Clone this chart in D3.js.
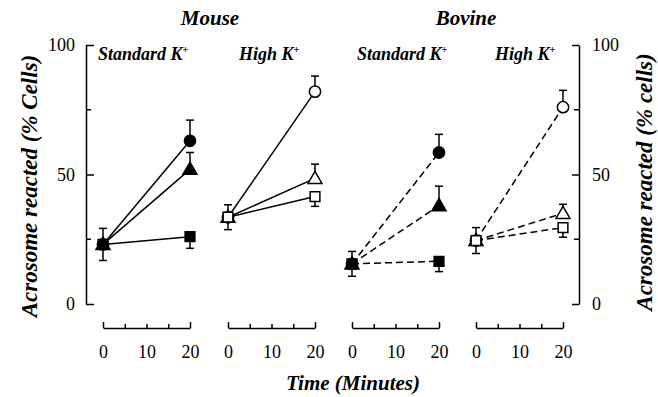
<!DOCTYPE html>
<html>
<head>
<meta charset="utf-8">
<script src="https://cdn.jsdelivr.net/npm/d3@7"></script>
<style>
  body { margin: 0; background: #fff; }
  svg { display: block; }
  .ttl { font-weight: bold; font-style: italic; }
</style>
</head>
<body>
<div id="chart"></div>
<script>
// panels, left to right
const speciesNames = ["Mouse", "Bovine"];
const panelLabels = ["Standard K", "High K", "Standard K", "High K"];
const panelOpen = [false, true, false, true];
const panelDashed = [false, false, true, true];
const timePoints = [0, 20];
const timeTicks = [0, 5, 10, 15, 20];
const yTicks = [0, 50, 100];
const yMinorTicks = [25, 75];

// values at t = 0 (shared by all three series of a panel)
const startValues = [23, 33.5, 15.5, 24.5];
const startErrors = [6.2, 4.8, 4.8, 5];
// values at t = 20
const circleValues = [63, 82, 58.5, 76];
const circleErrors = [8, 6, 7, 6.5];
const triangleValues = [52, 48.5, 38, 35];
const triangleErrors = [6.5, 5.5, 7.5, 3.5];
const squareValues = [26, 41.5, 16.5, 29.5];
const squareErrors = [4.5, 3.8, 4, 3.7];

const W = 658, H = 397;
const FONT = "'Liberation Serif', serif";
const svg = d3.select("#chart").append("svg").attr("width", W).attr("height", H);

const y = d3.scaleLinear().domain([0, 100]).range([304, 45]);
const panelLeft = [103, 228, 352, 476];
const panelWidth = 87;
const xs = panelLeft.map(l => d3.scaleLinear().domain([0, 20]).range([l, l + panelWidth]));

// left y axis
const yl = svg.append("g").attr("transform", "translate(86,0)")
  .call(d3.axisLeft(y).tickValues(yTicks).tickSize(-8).tickSizeOuter(0).tickPadding(11));
yl.append("g").selectAll("line").data(yMinorTicks).join("line")
  .attr("x1", 0).attr("x2", 5).attr("y1", d => y(d)).attr("y2", d => y(d));

// right y axis
const yr = svg.append("g").attr("transform", "translate(579,0)")
  .call(d3.axisRight(y).tickValues(yTicks).tickSize(-7).tickSizeOuter(0).tickPadding(13));
yr.append("g").selectAll("line").data(yMinorTicks).join("line")
  .attr("x1", 0).attr("x2", -5).attr("y1", d => y(d)).attr("y2", d => y(d));

[yl, yr].forEach(g => {
  g.selectAll("path, line").attr("stroke", "#000").attr("stroke-width", 1.5);
  g.selectAll("text").style("font-size", "18px").attr("fill", "#000");
});

// time axes
xs.forEach(x => {
  const g = svg.append("g").attr("transform", "translate(0,328)")
    .call(d3.axisBottom(x).tickValues(timeTicks).tickSize(-6).tickSizeOuter(0).tickPadding(17)
      .tickFormat(d => d % 10 === 0 ? d : ""));
  g.selectAll(".tick line").attr("y2", d => (d === 0 || d === 20) ? -6 : -4);
  g.selectAll("path, line").attr("stroke", "#000").attr("stroke-width", 1.5);
  g.selectAll("text").style("font-size", "18px").attr("fill", "#000");
});

// titles
svg.append("text").attr("class", "ttl").attr("x", 210).attr("y", 25).attr("text-anchor", "middle")
  .style("font-size", "21px").text(speciesNames[0]);
svg.append("text").attr("class", "ttl").attr("x", 466).attr("y", 25).attr("text-anchor", "middle")
  .style("font-size", "21px").text(speciesNames[1]);

const labelX = [98, 239, 357, 495];
panelLabels.forEach((lab, i) => {
  const t = svg.append("text").attr("class", "ttl").attr("x", labelX[i]).attr("y", 60)
    .style("font-size", "18px").text(lab);
  t.append("tspan").attr("dy", -7).style("font-size", "10px").text("+");
});

svg.append("text").attr("class", "ttl").attr("transform", "translate(37,186) rotate(-90)")
  .attr("text-anchor", "middle").style("font-size", "23px").text("Acrosome reacted (% Cells)");
svg.append("text").attr("class", "ttl").attr("transform", "translate(652,182) rotate(-90)")
  .attr("text-anchor", "middle").style("font-size", "23px").text("Acrosome reacted (% cells)");
svg.append("text").attr("class", "ttl").attr("x", 353).attr("y", 390).attr("text-anchor", "middle")
  .style("font-size", "21px").text("Time (Minutes)");

// data
const seriesDefs = [
  { shape: d3.symbolCircle, size: 100, vals: circleValues, errs: circleErrors, dir: -1 },
  { shape: d3.symbolTriangle, size: 85, vals: triangleValues, errs: triangleErrors, dir: -1 },
  { shape: d3.symbolSquare, size: 95, vals: squareValues, errs: squareErrors, dir: 1 }
];
const line = d3.line();

xs.forEach((x, p) => {
  const g = svg.append("g");
  const open = panelOpen[p];
  // lines
  seriesDefs.forEach(s => {
    const pts = timePoints.map((t, k) => [x(t), y(k === 0 ? startValues[p] : s.vals[p])]);
    g.append("path").attr("d", line(pts)).attr("fill", "none").attr("stroke", "#000")
      .attr("stroke-width", 1.5).attr("stroke-dasharray", panelDashed[p] ? "7,4" : null);
  });
  // error bars
  const bars = [
    { x: x(0), y0: startValues[p] - startErrors[p], y1: startValues[p] + startErrors[p] }
  ];
  seriesDefs.forEach(s => {
    bars.push({ x: x(20), y0: s.vals[p], y1: s.vals[p] - s.dir * s.errs[p] });
  });
  bars.forEach(b => {
    g.append("line").attr("x1", b.x).attr("x2", b.x).attr("y1", y(b.y0)).attr("y2", y(b.y1))
      .attr("stroke", "#000").attr("stroke-width", 1.5);
    [b.y0, b.y1].forEach(v => {
      g.append("line").attr("x1", b.x - 4).attr("x2", b.x + 4).attr("y1", y(v)).attr("y2", y(v))
        .attr("stroke", "#000").attr("stroke-width", 1.5);
    });
  });
  // markers
  seriesDefs.forEach(s => {
    const sym = d3.symbol().type(s.shape).size(s.size);
    timePoints.forEach((t, k) => {
      const v = k === 0 ? startValues[p] : s.vals[p];
      g.append("path").attr("d", sym())
        .attr("transform", `translate(${x(t)},${y(v) + (s.shape === d3.symbolTriangle ? 1 : 0)})`)
        .attr("fill", open ? "#fff" : "#000").attr("stroke", "#000").attr("stroke-width", 1.5);
    });
  });
});

svg.selectAll("text").style("font-family", FONT);
</script>
</body>
</html>
